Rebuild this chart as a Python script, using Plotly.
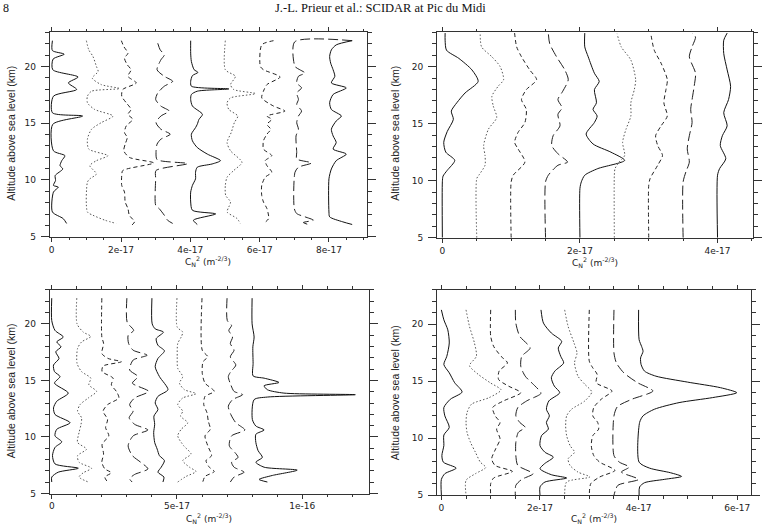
import plotly.graph_objects as go

SCALE = 1e-17  # values below are in units of 1e-17 m^-2/3

# ---------------- Panel A (top-left) ----------------
A_OFF = [0, 1, 2, 3, 4, 5, 6, 7, 8]
A_ALT = [
    [22.27, 21.4, 21.08, 20.65, 19.71, 19.07, 18.55, 17.97, 17.38, 15.92, 15.63, 14.9, 12.57, 12.14, 11.7, 11.26, 10.97, 10.39, 9.95, 9.52, 9.37, 8.93, 7.18, 6.6, 6.17],
    [22.27, 21.46, 20.88, 20.0, 19.56, 18.98, 18.4, 18.05, 17.82, 17.38, 16.8, 16.21, 15.63, 15.05, 14.47, 13.59, 12.72, 12.14, 11.7, 11.26, 10.53, 10.1, 9.81, 7.18, 6.89, 6.46, 6.17],
    [22.27, 21.75, 21.17, 20.73, 20.15, 19.71, 19.13, 18.55, 17.97, 17.38, 16.8, 16.21, 15.78, 15.34, 14.76, 14.18, 13.74, 13.16, 12.57, 11.99, 11.5, 10.83, 10.39, 9.52, 8.93, 8.06, 7.48, 6.89, 6.31, 6.02],
    [22.04, 21.46, 21.02, 20.58, 19.71, 19.13, 18.69, 18.26, 17.67, 17.09, 16.51, 16.07, 15.63, 15.05, 14.47, 14.03, 13.59, 13.16, 12.43, 11.79, 11.44, 10.83, 10.1, 7.77, 7.48, 6.89, 6.46, 6.17],
    [22.27, 21.17, 20.44, 19.71, 19.48, 19.19, 18.69, 18.26, 18.02, 17.82, 17.53, 17.09, 16.51, 15.78, 15.34, 14.9, 14.61, 14.03, 13.45, 12.86, 12.28, 11.7, 11.41, 11.12, 10.68, 10.1, 9.52, 8.93, 8.06, 7.33, 7.01, 6.46, 6.08],
    [22.27, 19.71, 19.13, 18.4, 17.97, 17.61, 17.23, 16.8, 16.21, 15.63, 15.05, 14.18, 13.3, 12.57, 11.55, 10.83, 10.24, 9.52, 8.64, 8.06, 7.62, 7.18, 6.6, 6.17],
    [22.27, 21.9, 20.0, 19.71, 19.07, 18.4, 17.82, 17.23, 16.51, 16.07, 15.63, 15.34, 14.9, 14.47, 14.03, 13.45, 12.72, 12.14, 11.7, 11.26, 10.68, 10.24, 9.52, 8.64, 8.06, 7.48, 6.6, 6.17],
    [22.27, 22.16, 20.0, 19.71, 19.42, 19.13, 18.55, 18.11, 17.67, 17.09, 16.65, 16.07, 15.63, 15.05, 14.47, 13.88, 12.43, 11.85, 11.5, 11.12, 10.68, 7.48, 7.04, 6.75, 6.46, 6.25, 6.08],
    [22.27, 21.9, 21.46, 20.88, 20.29, 19.71, 19.13, 18.55, 18.11, 17.53, 16.8, 16.21, 15.63, 15.2, 14.47, 13.88, 13.3, 12.72, 12.28, 11.7, 10.97, 10.1, 7.18, 6.75, 6.31, 6.08],
]
A_VAL = [
    [0.02, 0.02, 0.36, 0.04, 0.03, 0.76, 0.48, 0.72, 0.05, 0.02, 0.89, 0.03, 0.05, 0.38, 0.29, 0.24, 0.32, 0.1, 0.11, 0.05, 0.19, 0.05, 0.02, 0.33, 0.43],
    [0.0, 0.07, 0.19, 0.29, 0.34, 0.17, 0.43, 0.96, 0.15, 0.03, 0.03, 0.24, 0.77, 0.43, 0.15, 0.03, 0.07, 0.62, 0.29, 0.1, 0.29, 0.1, 0.03, 0.03, 0.19, 0.53, 0.86],
    [0.01, 0.08, 0.2, 0.1, 0.18, 0.29, 0.2, 0.44, 0.05, 0.02, 0.15, 0.29, 0.2, 0.34, 0.15, 0.1, 0.18, 0.12, 0.08, 0.24, 0.94, 0.05, 0.02, 0.02, 0.1, 0.12, 0.2, 0.24, 0.39, 0.31],
    [0.06, 0.13, 0.25, 0.15, 0.04, 0.25, 0.49, 0.25, 0.06, 0.0, 0.15, 0.39, 0.15, 0.01, 0.15, 0.42, 0.15, 0.04, 0.01, 0.04, 0.92, 0.01, 0.0, 0.0, 0.1, 0.25, 0.34, 0.49],
    [0.01, 0.01, 0.03, 0.11, 0.22, 0.06, 0.01, 0.03, 1.11, 0.2, 0.03, 0.01, 0.06, 0.35, 0.25, 0.2, 0.15, 0.03, 0.06, 0.2, 0.49, 0.87, 0.63, 0.2, 0.15, 0.15, 0.06, 0.01, 0.01, 0.06, 0.73, 0.09, 0.2],
    [0.01, 0.01, 0.3, 0.16, 0.25, 0.88, 0.16, 0.06, 0.11, 0.37, 0.27, 0.18, 0.06, 0.16, 0.49, 0.25, 0.06, 0.01, 0.02, 0.16, 0.11, 0.06, 0.35, 0.44],
    [0.4, 0.06, 0.02, 0.11, 0.59, 0.21, 0.11, 0.06, 0.4, 0.73, 0.21, 0.35, 0.21, 0.32, 0.21, 0.11, 0.11, 0.35, 0.16, 0.21, 0.35, 0.16, 0.06, 0.06, 0.11, 0.21, 0.26, 0.11],
    [1.67, 0.01, 0.02, 0.16, 0.31, 0.12, 0.07, 0.21, 0.07, 0.12, 0.07, 0.21, 0.12, 0.07, 0.12, 0.05, 0.07, 0.07, 0.5, 0.12, 0.02, 0.0, 0.07, 0.31, 0.55, 0.26, 0.4],
    [0.67, 0.21, 0.07, 0.02, 0.05, 0.12, 0.17, 0.07, 0.5, 0.12, 0.02, 0.07, 0.36, 0.21, 0.07, 0.12, 0.21, 0.12, 0.5, 0.21, 0.07, 0.0, 0.0, 0.02, 0.4, 0.67],
]

# ---------------- Panel B (top-right) ----------------
B_OFF = [0, 0.5, 1.0, 1.5, 2.0, 2.5, 3.0, 3.5, 4.0]
B_ALT = [
    [5.0, 9.9, 10.4, 10.9, 11.78, 12.5, 13.36, 14.3, 15.38, 16.1, 16.83, 17.69, 18.7, 19.71, 20.72, 21.44, 22.31, 22.94],
    [5.0, 10.19, 10.48, 11.35, 12.21, 13.08, 14.52, 15.53, 16.54, 17.4, 18.27, 18.85, 20.0, 20.86, 21.73, 22.94],
    [5.0, 9.9, 10.48, 11.63, 12.79, 13.36, 14.23, 15.1, 16.25, 17.11, 17.98, 18.85, 19.71, 20.86, 21.73, 22.94],
    [5.0, 9.9, 10.48, 11.35, 11.63, 12.36, 13.08, 13.94, 14.81, 15.82, 16.39, 17.11, 17.84, 18.85, 19.71, 20.86, 22.02, 22.94],
    [5.0, 9.33, 9.9, 10.48, 11.06, 11.78, 12.5, 13.22, 14.09, 15.1, 15.67, 16.25, 16.83, 17.98, 18.7, 19.42, 20.86, 21.73, 22.94],
    [5.0, 10.48, 11.06, 11.63, 12.21, 13.36, 14.52, 15.67, 16.83, 17.98, 18.85, 20.58, 21.73, 22.88],
    [5.0, 9.61, 10.19, 11.35, 12.21, 13.08, 13.94, 14.81, 15.67, 16.83, 17.98, 18.85, 20.29, 21.44, 22.88],
    [5.0, 9.9, 10.77, 11.63, 12.79, 13.94, 15.1, 16.25, 17.11, 18.27, 19.42, 20.86, 21.73, 22.59, 22.94],
    [5.0, 10.48, 11.06, 11.92, 13.08, 13.94, 14.81, 15.96, 17.11, 18.27, 19.71, 21.15, 22.31, 22.94],
]
B_VAL = [
    [0.0, 0.0, 0.01, 0.07, 0.18, 0.05, 0.02, 0.07, 0.16, 0.13, 0.21, 0.33, 0.52, 0.43, 0.24, 0.06, 0.04, 0.04],
    [0.0, 0.0, 0.03, 0.12, 0.12, 0.1, 0.17, 0.29, 0.24, 0.22, 0.31, 0.39, 0.34, 0.22, 0.07, 0.05],
    [0.0, 0.0, 0.03, 0.2, 0.1, 0.05, 0.1, 0.2, 0.22, 0.15, 0.22, 0.37, 0.27, 0.15, 0.08, 0.05],
    [0.0, 0.0, 0.04, 0.18, 0.32, 0.18, 0.09, 0.11, 0.21, 0.18, 0.24, 0.18, 0.25, 0.33, 0.28, 0.16, 0.06, 0.04],
    [0.0, 0.0, 0.02, 0.07, 0.26, 0.65, 0.45, 0.19, 0.09, 0.21, 0.25, 0.19, 0.24, 0.21, 0.28, 0.21, 0.12, 0.07, 0.07],
    [0.0, 0.0, 0.01, 0.07, 0.15, 0.12, 0.17, 0.24, 0.24, 0.29, 0.31, 0.24, 0.1, 0.04],
    [0.0, 0.0, 0.02, 0.13, 0.2, 0.13, 0.1, 0.18, 0.27, 0.22, 0.25, 0.27, 0.18, 0.08, 0.03],
    [0.0, 0.0, 0.04, 0.09, 0.06, 0.09, 0.13, 0.11, 0.13, 0.16, 0.18, 0.09, 0.13, 0.18, 0.13],
    [0.0, 0.0, 0.03, 0.12, 0.04, 0.07, 0.14, 0.09, 0.16, 0.19, 0.14, 0.09, 0.09, 0.14],
]

# ---------------- Panel C (bottom-left) ----------------
C_OFF = [0, 1, 2, 3, 4, 5, 6, 7, 8]
C_ALT = [
    [22.27, 20.29, 19.42, 18.84, 18.4, 17.97, 17.53, 16.94, 16.36, 15.78, 15.34, 14.76, 13.88, 13.16, 12.57, 11.99, 11.26, 10.68, 10.1, 9.57, 9.08, 8.35, 7.62, 7.24, 6.89, 6.46, 6.02],
    [22.27, 20.0, 19.27, 18.89, 18.4, 17.82, 16.51, 15.78, 15.2, 14.61, 14.03, 13.45, 12.86, 12.28, 11.7, 11.12, 10.39, 9.52, 8.93, 8.35, 7.77, 7.24, 6.84, 6.46, 6.02],
    [22.27, 18.84, 18.26, 17.38, 16.94, 16.65, 16.27, 15.78, 15.2, 14.61, 14.03, 13.45, 12.86, 12.28, 11.55, 10.83, 10.1, 9.37, 8.5, 7.77, 7.18, 6.84, 6.46, 6.02],
    [22.27, 20.15, 19.42, 18.98, 18.26, 17.67, 17.23, 16.8, 15.92, 15.34, 14.76, 14.03, 13.45, 12.86, 12.28, 11.7, 11.12, 10.62, 10.1, 9.22, 8.35, 7.77, 7.18, 6.69, 6.31, 6.02],
    [22.27, 20.0, 19.56, 19.27, 18.69, 18.11, 17.61, 16.94, 16.21, 15.34, 14.18, 13.59, 13.01, 12.43, 11.85, 11.12, 10.39, 9.52, 8.93, 8.35, 7.91, 7.33, 6.89, 6.46, 6.02],
    [22.27, 19.71, 19.27, 18.84, 18.26, 17.09, 16.07, 15.34, 14.76, 14.18, 13.83, 13.45, 12.86, 12.28, 11.85, 11.26, 10.68, 10.1, 9.22, 8.5, 7.91, 7.33, 6.95, 6.51, 6.02],
    [22.27, 17.67, 17.09, 16.65, 15.63, 14.76, 14.03, 13.59, 12.86, 12.14, 11.41, 10.68, 10.1, 9.22, 8.35, 7.91, 7.33, 6.95, 6.51, 6.02],
    [22.27, 20.29, 19.86, 19.42, 18.84, 18.26, 17.67, 17.09, 16.36, 15.78, 15.34, 14.61, 14.03, 13.74, 13.3, 12.72, 11.99, 11.26, 10.62, 10.1, 9.22, 8.64, 8.2, 7.77, 7.33, 6.89, 6.46, 6.02],
    [22.27, 20.0, 18.84, 17.97, 16.51, 15.4, 15.2, 14.82, 14.53, 14.18, 13.88, 13.74, 13.53, 13.3, 11.55, 10.97, 10.62, 10.24, 9.52, 8.79, 8.2, 7.77, 7.33, 7.07, 6.6, 6.25, 6.02],
]
C_VAL = [
    [0, 0, 0.13, 0.46, 0.2, 0.37, 0.16, 0.29, 0.07, 0.11, 0.33, 0.11, 0.66, 0.2, 0.07, 0.13, 0.73, 0.2, 0.13, 0.4, 0.13, 0.03, 0.13, 1.06, 0.26, 0, 0],
    [0, 0.01, 0.26, 0.56, 0.19, 0.03, 0.01, 0.19, 0.56, 0.48, 0.79, 0.46, 0.13, 0.03, 0.19, 0.17, 0.09, 0.03, 0.39, 0.03, 0.09, 0.59, 0.26, 0.09, 0.46],
    [0, 0, 0.07, 0, 0.25, 0.78, 0.05, 0.01, 0.45, 0.38, 0.58, 0.68, 0.23, 0.05, 0.23, 0.15, 0.28, 0.01, 0.07, 0, 0.12, 0.38, 0.12, 0.23],
    [0, 0.01, 0.27, 0.05, 0.07, 0.25, 0.81, 0.25, 0.11, 0.44, 0.22, 0.87, 0.31, 0.11, 0.25, 0.09, 0.31, 0.84, 0.25, 0.05, 0.22, 0.55, 0.84, 0.31, 0.11, 0.21],
    [0, 0.01, 0.13, 0.46, 0.17, 0.24, 0.5, 0.24, 0.13, 0.3, 0.64, 0.24, 0.13, 0.24, 0.08, 0.11, 0.07, 0.11, 0.21, 0.3, 0.5, 0.37, 0.24, 0.48, 0.44],
    [0, 0.01, 0.23, 0.17, 0.03, 0.01, 0.03, 0.23, 0.1, 0.3, 0.76, 0.23, 0.03, 0.23, 0.14, 0.43, 0.17, 0.03, 0.27, 0.56, 0.23, 0.5, 0.76, 0.36, 0.03],
    [0, 0.01, 0.23, 0.04, 0.01, 0.12, 0.49, 0.12, 0.07, 0.2, 0.25, 0.33, 0.12, 0.23, 0.38, 0.16, 0.29, 0.49, 0.12, 0.03],
    [0, 0.01, 0.18, 0.07, 0.22, 0.13, 0.28, 0.13, 0.35, 0.15, 0.05, 0.15, 0.28, 0.62, 0.22, 0.05, 0.15, 0.35, 0.71, 0.18, 0.09, 0.31, 0.44, 0.18, 0.28, 0.68, 0.28, 0.13],
    [0, 0, 0.08, 0.03, 0.04, 0.04, 0.48, 1.07, 0.48, 0.61, 1.27, 4.12, 0.61, 0.08, 0.01, 0.15, 0.48, 0.15, 0.15, 0.24, 0.41, 0.15, 0.48, 1.8, 0.81, 0.28, 0.61],
]

# ---------------- Panel D (bottom-right) ----------------
D_OFF = [0, 0.5, 1.0, 1.5, 2.0, 2.5, 3.0, 3.5, 4.0]
D_ALT = [
    [21.25, 20.38, 19.5, 18.35, 17.18, 16.46, 15.73, 14.86, 14.05, 13.41, 12.69, 11.96, 10.95, 10.28, 9.35, 8.48, 7.9, 7.38, 6.89, 6.39, 5.0],
    [21.25, 19.8, 18.35, 17.18, 16.37, 15.59, 14.86, 14.23, 13.56, 12.98, 12.25, 11.38, 10.51, 9.64, 8.77, 7.9, 7.44, 6.89, 6.31, 5.0],
    [21.25, 18.93, 18.05, 17.18, 16.6, 15.88, 15.15, 14.57, 13.99, 13.27, 12.69, 11.96, 11.38, 10.8, 9.93, 9.06, 8.19, 7.61, 7.09, 6.51, 6.02, 5.0],
    [21.25, 20.09, 18.93, 17.91, 17.18, 16.31, 15.44, 14.57, 13.94, 13.27, 12.69, 11.96, 11.38, 10.95, 10.51, 9.64, 8.48, 7.61, 6.89, 6.39, 5.87, 5.0],
    [21.25, 20.09, 19.22, 18.49, 17.91, 17.18, 16.6, 15.88, 15.3, 14.57, 13.99, 13.27, 12.54, 11.96, 11.38, 10.8, 10.22, 9.35, 8.77, 8.34, 7.76, 7.32, 6.8, 6.51, 6.16, 5.73, 5.0],
    [21.25, 19.8, 18.35, 17.47, 16.6, 15.44, 14.72, 14.05, 13.27, 12.54, 11.96, 11.09, 10.22, 9.35, 8.77, 8.19, 7.61, 7.03, 6.6, 6.16, 5.0],
    [21.25, 16.75, 16.17, 15.59, 14.86, 14.14, 13.41, 12.69, 11.96, 11.38, 10.8, 10.22, 9.35, 8.48, 7.9, 7.18, 6.6, 6.02, 5.0],
    [21.25, 17.47, 16.6, 15.73, 14.86, 14.14, 13.41, 12.77, 11.96, 8.48, 7.9, 7.47, 7.03, 6.39, 5.87, 5.0],
    [21.25, 18.64, 18.05, 17.62, 17.04, 16.46, 15.88, 15.44, 14.92, 14.43, 13.99, 13.56, 13.12, 12.54, 11.96, 11.38, 7.9, 7.38, 6.97, 6.65, 6.39, 6.1, 5.73, 5.0],
]
D_VAL = [
    [0, 0.05, 0.13, 0.16, 0.11, 0.05, 0.16, 0.27, 0.42, 0.18, 0.05, 0.07, 0.16, 0.05, 0.05, 0.01, 0.04, 0.3, 0.07, 0, 0],
    [0, 0.07, 0.17, 0.21, 0.07, 0.25, 0.49, 0.71, 0.47, 0.11, 0.02, 0, 0.02, 0.09, 0.19, 0.29, 0.4, 0.19, 0, 0],
    [0, 0, 0.06, 0.21, 0.34, 0.17, 0.16, 0.36, 0.61, 0.26, 0.04, 0.09, 0.19, 0.12, 0.19, 0.1, 0.02, 0.09, 0.44, 0.06, 0, 0],
    [0, 0.01, 0.09, 0.3, 0.13, 0.11, 0.2, 0.4, 0.52, 0.23, 0.05, 0.01, 0.09, 0.2, 0.06, 0.01, 0.01, 0.05, 0.36, 0.13, 0.01, 0],
    [0.02, 0.07, 0.23, 0.44, 0.37, 0.42, 0.48, 0.3, 0.23, 0.29, 0.4, 0.18, 0.13, 0.19, 0.13, 0.17, 0.03, 0, 0.1, 0.27, 0.09, 0, 0.23, 0.54, 0.1, 0, 0],
    [0, 0.07, 0.19, 0.25, 0.2, 0.27, 0.41, 0.55, 0.41, 0.14, 0.04, 0.02, 0.04, 0.11, 0.2, 0.07, 0.11, 0.27, 0.51, 0.04, 0],
    [0, 0, 0.07, 0.16, 0.14, 0.46, 0.24, 0.09, 0.07, 0.17, 0.19, 0.07, 0.04, 0.09, 0.21, 0.52, 0.21, 0.03, 0],
    [0, 0, 0.05, 0.2, 0.48, 0.79, 0.36, 0.07, 0, 0, 0.11, 0.31, 0.15, 0.5, 0.08, 0],
    [0, 0.01, 0.06, 0.09, 0.04, 0.05, 0.12, 0.35, 0.99, 1.66, 1.99, 1.5, 0.82, 0.32, 0.09, 0.02, 0.01, 0.22, 0.65, 0.87, 0.52, 0.12, 0.02, 0.01],
]

# tick labels
A_TICKS = [0, 2, 4, 6, 8]
A_TICKTEXT = ["0", "2e-17", "4e-17", "6e-17", "8e-17"]
B_TICKS = [0, 2, 4]
B_TICKTEXT = ["0", "2e-17", "4e-17"]
C_TICKS = [0, 5, 10]
C_TICKTEXT = ["0", "5e-17", "1e-16"]
D_TICKS = [0, 2, 4, 6]
D_TICKTEXT = ["0", "2e-17", "4e-17", "6e-17"]
Y_TICKS = [5, 10, 15, 20]

DASHES = ["solid", "1.5px,2px", "4px,3px", "10px,4px"]
COLORS = ["#111111", "#555555", "#222222", "#222222"]

W, H = 762, 526

fig = go.Figure()

panels = [
    dict(alt=A_ALT, val=A_VAL, off=A_OFF, xa="x", ya="y",
         px=(49, 368), py=(32.7, 239), xr=(-0.057, 9.1), ticks=A_TICKS, tt=A_TICKTEXT, minor=0.5),
    dict(alt=B_ALT, val=B_VAL, off=B_OFF, xa="x2", ya="y2",
         px=(438.3, 756), py=(32.7, 240), xr=(-0.078, 4.516), ticks=B_TICKS, tt=B_TICKTEXT, minor=0.5),
    dict(alt=C_ALT, val=C_VAL, off=C_OFF, xa="x3", ya="y3",
         px=(49, 370), py=(292.7, 498.3), xr=(-0.08, 12.67), ticks=C_TICKS, tt=C_TICKTEXT, minor=1.0),
    dict(alt=D_ALT, val=D_VAL, off=D_OFF, xa="x4", ya="y4",
         px=(438.3, 754), py=(292.7, 500), xr=(-0.089, 6.28), ticks=D_TICKS, tt=D_TICKTEXT, minor=0.5),
]

AX = "#333333"
TICKFONT = dict(family="DejaVu Sans", size=9, color="#222")
layout_axes = {}
for i, p in enumerate(panels):
    for k, (alts, vals) in enumerate(zip(p["alt"], p["val"])):
        xs = [(p["off"][k] + v) * SCALE for v in vals]
        fig.add_trace(go.Scatter(
            x=xs, y=alts, mode="lines", xaxis=p["xa"], yaxis=p["ya"],
            line=dict(color=COLORS[k % 4], width=1, dash=DASHES[k % 4],
                      shape="spline", smoothing=0.7),
            showlegend=False, hoverinfo="skip"))
    n = "" if i == 0 else str(i + 1)
    xdom = [p["px"][0] / W, p["px"][1] / W]
    ydom = [1 - p["py"][1] / H, 1 - p["py"][0] / H]
    layout_axes["xaxis" + n] = dict(
        domain=xdom, range=[p["xr"][0] * SCALE, p["xr"][1] * SCALE], anchor="y" + n,
        tickmode="array", tickvals=[t * SCALE for t in p["ticks"]], ticktext=p["tt"],
        ticks="outside", ticklen=4, tickwidth=1, tickcolor=AX,
        showline=True, linecolor=AX, linewidth=1, mirror="allticks",
        showgrid=False, zeroline=False, tickfont=TICKFONT,
        minor=dict(tickmode="linear", tick0=0, dtick=p["minor"] * SCALE, ticks="outside",
                   ticklen=2.5, tickwidth=1, tickcolor=AX, showgrid=False),
    )
    layout_axes["yaxis" + n] = dict(
        domain=ydom, range=[5, 23], anchor="x" + n,
        tickmode="array", tickvals=Y_TICKS,
        ticks="outside", ticklen=8, tickwidth=1, tickcolor=AX,
        showline=True, linecolor=AX, linewidth=1, mirror="allticks",
        showgrid=False, zeroline=False, tickfont=TICKFONT, ticklabelstandoff=3,
        minor=dict(tickmode="linear", tick0=5, dtick=1, ticks="outside",
                   ticklen=4, tickwidth=1, tickcolor=AX, showgrid=False),
    )

annotations = [
    dict(text="8", x=0, y=1 - 8 / H, xanchor="left", yanchor="middle", showarrow=False,
         xref="paper", yref="paper",
         font=dict(family="Liberation Serif", size=12, color="#111")),
    dict(text="J.-L. Prieur et al.: SCIDAR at Pic du Midi", x=381 / W, y=1 - 8 / H,
         xanchor="center", yanchor="middle", showarrow=False, xref="paper", yref="paper",
         font=dict(family="Liberation Serif", size=12.5, color="#111")),
]
XT = "C<sub>N</sub><sup>2</sup> (m<sup>-2/3</sup>)"
YT = "Altitude above sea level (km)"
for (xp, yp) in [(208, 264), (597, 265), (209, 523), (596, 523)]:
    annotations.append(dict(text=XT, x=xp / W, y=1 - yp / H, xanchor="center", yanchor="middle",
                            xref="paper", yref="paper",
                            showarrow=False, font=dict(family="DejaVu Sans", size=9, color="#222")))
for (xp, yp) in [(10, 134), (396, 134), (10, 394), (396, 396)]:
    annotations.append(dict(text=YT, x=xp / W, y=1 - yp / H, xanchor="center", yanchor="middle",
                            xref="paper", yref="paper",
                            textangle=-90, showarrow=False,
                            font=dict(family="Liberation Sans", size=10.5, color="#222")))

fig.update_layout(
    width=W, height=H, margin=dict(l=0, r=0, t=0, b=0),
    paper_bgcolor="white", plot_bgcolor="white",
    annotations=annotations, **layout_axes)

fig.write_html("out.html")
